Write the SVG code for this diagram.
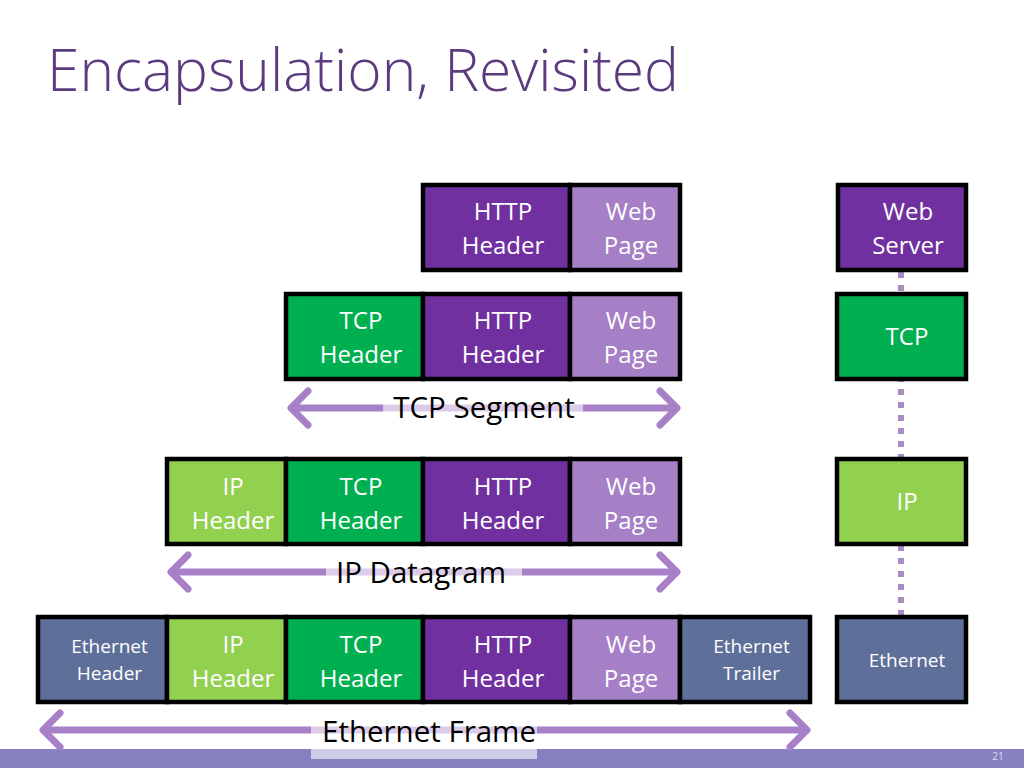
<svg xmlns="http://www.w3.org/2000/svg" width="1024" height="768" viewBox="0 0 1024 768">
<style>
.cell{stroke:#000;stroke-width:4.5}
.http{fill:#7030a0}
.web{fill:#a680c6}
.tcp{fill:#00b050}
.ip{fill:#92d050}
.eth{fill:#5e6f9a}
.lbl{font-family:"Open Sans","Liberation Sans",sans-serif;font-size:24px;fill:#fff;text-anchor:middle}
.sm{font-size:19px}
.arr{stroke:#a880c8;stroke-width:7;fill:none;stroke-linecap:round;stroke-linejoin:round}
.span{font-family:"Open Sans","Liberation Sans",sans-serif;font-size:29.5px;fill:#000;text-anchor:middle}
.band{fill:#fff;fill-opacity:0.6}
.dots{stroke:#a98bc8;stroke-width:6;stroke-dasharray:6 7;fill:none}
</style>
<rect width="1024" height="768" fill="#fff"/>
<text x="47" y="91" font-family="'Open Sans','Liberation Sans',sans-serif" font-weight="300" font-size="58" fill="#5b3b7e" textLength="632" lengthAdjust="spacingAndGlyphs">Encapsulation, Revisited</text>

<rect x="0" y="749" width="1024" height="19" fill="#8682c2"/>
<text x="998" y="760" font-family="'Open Sans','Liberation Sans',sans-serif" font-size="10" fill="#dcdcf2" text-anchor="middle">21</text>

<g id="connectors">
  <line class="dots" x1="901" y1="272" x2="901" y2="615"/>
  <g id="tcp-segment-arrow">
    <line class="arr" x1="292" y1="408" x2="676" y2="408"/>
    <polyline class="arr" points="308,391 291,408 308,425"/>
    <polyline class="arr" points="660,391 677,408 660,425"/>
  </g>
  <g id="ip-datagram-arrow">
    <line class="arr" x1="173" y1="572" x2="676" y2="572"/>
    <polyline class="arr" points="188,555 171,572 188,589"/>
    <polyline class="arr" points="660,555 677,572 660,589"/>
  </g>
  <g id="ethernet-frame-arrow">
    <line class="arr" x1="45" y1="730" x2="805" y2="730"/>
    <polyline class="arr" points="60,713 43,730 60,747"/>
    <polyline class="arr" points="790,713 807,730 790,747"/>
  </g>
</g>

<g id="label-tcp-segment">
  <rect class="band" x="383" y="384" width="200" height="48"/>
  <text class="span" x="484" y="418">TCP Segment</text>
</g>
<g id="label-ip-datagram">
  <rect class="band" x="326" y="549" width="196" height="48"/>
  <text class="span" x="421" y="583">IP Datagram</text>
</g>
<g id="label-ethernet-frame">
  <rect class="band" x="311" y="711" width="226" height="48"/>
  <text class="span" x="429" y="742">Ethernet Frame</text>
</g>

<!-- Row 1 -->
<g id="r1-http"><rect class="cell http" x="423" y="185" width="147" height="85"/><text class="lbl" x="503" y="220">HTTP</text><text class="lbl" x="503" y="254">Header</text></g>
<g id="r1-web"><rect class="cell web" x="570" y="185" width="110" height="85"/><text class="lbl" x="631" y="220">Web</text><text class="lbl" x="631" y="254">Page</text></g>

<!-- Row 2 -->
<g id="r2-tcp"><rect class="cell tcp" x="286" y="294" width="137" height="85"/><text class="lbl" x="361" y="329">TCP</text><text class="lbl" x="361" y="363">Header</text></g>
<g id="r2-http"><rect class="cell http" x="423" y="294" width="147" height="85"/><text class="lbl" x="503" y="329">HTTP</text><text class="lbl" x="503" y="363">Header</text></g>
<g id="r2-web"><rect class="cell web" x="570" y="294" width="110" height="85"/><text class="lbl" x="631" y="329">Web</text><text class="lbl" x="631" y="363">Page</text></g>

<!-- Row 3 -->
<g id="r3-ip"><rect class="cell ip" x="167" y="459" width="119" height="85"/><text class="lbl" x="233" y="495">IP</text><text class="lbl" x="233" y="529">Header</text></g>
<g id="r3-tcp"><rect class="cell tcp" x="286" y="459" width="137" height="85"/><text class="lbl" x="361" y="495">TCP</text><text class="lbl" x="361" y="529">Header</text></g>
<g id="r3-http"><rect class="cell http" x="423" y="459" width="147" height="85"/><text class="lbl" x="503" y="495">HTTP</text><text class="lbl" x="503" y="529">Header</text></g>
<g id="r3-web"><rect class="cell web" x="570" y="459" width="110" height="85"/><text class="lbl" x="631" y="495">Web</text><text class="lbl" x="631" y="529">Page</text></g>

<!-- Row 4 -->
<g id="r4-eth-header"><rect class="cell eth" x="38" y="617" width="129" height="85"/><text class="lbl sm" x="109.5" y="653">Ethernet</text><text class="lbl sm" x="109.5" y="680">Header</text></g>
<g id="r4-ip"><rect class="cell ip" x="167" y="617" width="119" height="85"/><text class="lbl" x="233" y="653">IP</text><text class="lbl" x="233" y="687">Header</text></g>
<g id="r4-tcp"><rect class="cell tcp" x="286" y="617" width="137" height="85"/><text class="lbl" x="361" y="653">TCP</text><text class="lbl" x="361" y="687">Header</text></g>
<g id="r4-http"><rect class="cell http" x="423" y="617" width="147" height="85"/><text class="lbl" x="503" y="653">HTTP</text><text class="lbl" x="503" y="687">Header</text></g>
<g id="r4-web"><rect class="cell web" x="570" y="617" width="110" height="85"/><text class="lbl" x="631" y="653">Web</text><text class="lbl" x="631" y="687">Page</text></g>
<g id="r4-eth-trailer"><rect class="cell eth" x="680" y="617" width="130" height="85"/><text class="lbl sm" x="751.5" y="653">Ethernet</text><text class="lbl sm" x="751.5" y="680">Trailer</text></g>

<!-- Stack column -->
<g id="web-server"><rect class="cell http" x="838" y="185" width="128" height="85"/><text class="lbl" x="908" y="220">Web</text><text class="lbl" x="908" y="254">Server</text></g>
<g id="stack-tcp"><rect class="cell tcp" x="837" y="294" width="129" height="85"/><text class="lbl" x="907" y="345">TCP</text></g>
<g id="stack-ip"><rect class="cell ip" x="837" y="459" width="129" height="85"/><text class="lbl" x="907" y="510">IP</text></g>
<g id="stack-ethernet"><rect class="cell eth" x="837" y="617" width="129" height="85"/><text class="lbl sm" x="907" y="667">Ethernet</text></g>
</svg>
